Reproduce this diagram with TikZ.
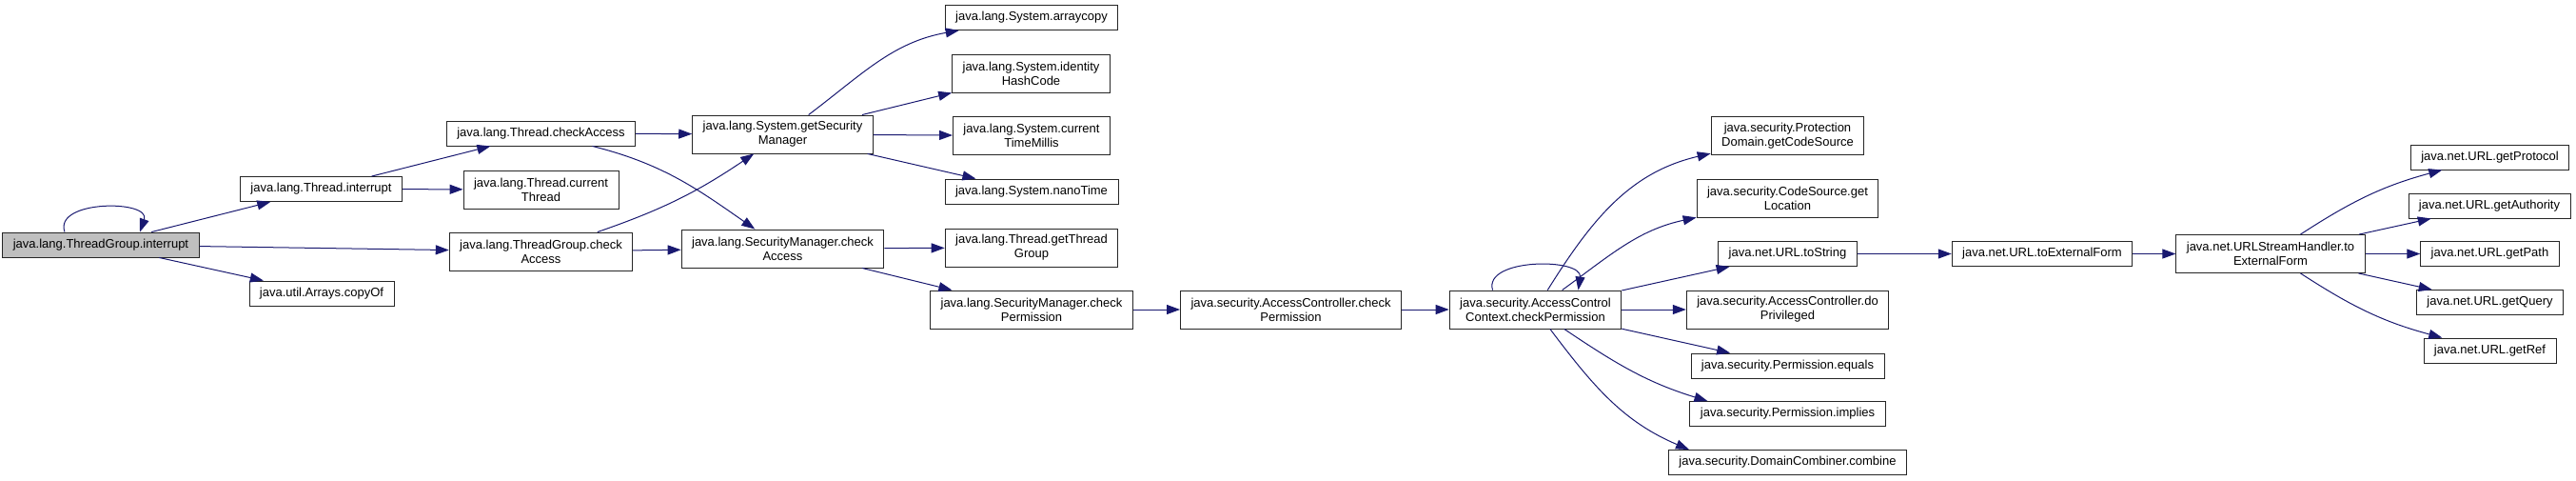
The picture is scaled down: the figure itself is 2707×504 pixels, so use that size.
\documentclass[tikz,border=0pt]{standalone}
\usepackage{fontspec}
\setmainfont{Liberation Sans}
\usetikzlibrary{arrows.meta}
\definecolor{edgeblue}{HTML}{191970}
\definecolor{rootgray}{HTML}{BFBFBF}

\begin{document}
\begin{tikzpicture}[
  x=1pt, y=1pt,
  fn/.style={draw=black!85, line width=0.9pt, fill=white, minimum height=26pt, inner xsep=11pt, inner ysep=2pt, align=center, font=\fontsize{13}{15}\selectfont},
  fn2/.style={fn, minimum height=40pt},
  root/.style={fn, fill=rootgray},
  call/.style={-{Triangle[length=14pt, width=10pt]}, draw=edgeblue, line width=1pt}
]
  \useasboundingbox (0,0) rectangle (2707,-504);

  % entry point and its direct callees
  \node[root] (tgi) at (106,-257) {java.lang.ThreadGroup.interrupt};
  \node[fn] (tint) at (337.5,-198.5) {java.lang.Thread.interrupt};
  \node[fn] (copyof) at (338,-308) {java.util.Arrays.copyOf};
  \node[fn] (tca) at (568.5,-140) {java.lang.Thread.checkAccess};
  \node[fn2] (tcur) at (568.5,-199) {java.lang.Thread.current\\Thread};
  \node[fn2] (tgca) at (568.5,-264) {java.lang.ThreadGroup.check\\Access};
  \node[fn2] (gsm) at (822.5,-141) {java.lang.System.getSecurity\\Manager};
  \node[fn2] (smca) at (822.5,-261) {java.lang.SecurityManager.check\\Access};

  % java.lang.System / SecurityManager column
  \node[fn] (acopy) at (1084,-18.5) {java.lang.System.arraycopy};
  \node[fn2] (ihc) at (1083.5,-77) {java.lang.System.identity\\HashCode};
  \node[fn2] (ctm) at (1084,-142.5) {java.lang.System.current\\TimeMillis};
  \node[fn] (nano) at (1084,-201) {java.lang.System.nanoTime};
  \node[fn2] (gtg) at (1084,-260) {java.lang.Thread.getThread\\Group};
  \node[fn2] (smcp) at (1084,-325) {java.lang.SecurityManager.check\\Permission};
  \node[fn2] (accp) at (1356.5,-325) {java.security.AccessController.check\\Permission};
  \node[fn2] (acc) at (1613.5,-325) {java.security.AccessControl\\Context.checkPermission};

  % java.security column
  \node[fn2] (pdcs) at (1878.5,-142.5) {java.security.Protection\\Domain.getCodeSource};
  \node[fn2] (csloc) at (1878.5,-208) {java.security.CodeSource.get\\Location};
  \node[fn] (urlts) at (1878.5,-266.5) {java.net.URL.toString};
  \node[fn2] (dopriv) at (1878.5,-325) {java.security.AccessController.do\\Privileged};
  \node[fn] (peq) at (1878.5,-384) {java.security.Permission.equals};
  \node[fn] (pimp) at (1878.5,-434.5) {java.security.Permission.implies};
  \node[fn] (dcomb) at (1878.5,-485.5) {java.security.DomainCombiner.combine};

  % java.net.URL chain
  \node[fn] (urltef) at (2146,-266.5) {java.net.URL.toExternalForm};
  \node[fn2] (ushtef) at (2386,-266.5) {java.net.URLStreamHandler.to\\ExternalForm};
  \node[fn] (gprot) at (2616.5,-165) {java.net.URL.getProtocol};
  \node[fn] (gauth) at (2616,-216) {java.net.URL.getAuthority};
  \node[fn] (gpath) at (2616.5,-266.5) {java.net.URL.getPath};
  \node[fn] (gquery) at (2616.5,-317.5) {java.net.URL.getQuery};
  \node[fn] (gref) at (2616.5,-368) {java.net.URL.getRef};

  % calls
  \draw[call] ([xshift=-38pt]tgi.north) .. controls +(-12,34) and +(12,34) .. ([xshift=41pt]tgi.north);
  \draw[call] (tgi) -- (tint);
  \draw[call] (tgi) -- (tgca);
  \draw[call] (tgi) -- (copyof);
  \draw[call] (tint) -- (tca);
  \draw[call] (tint) -- (tcur);
  \draw[call] (tca) -- (gsm);
  \draw[call] (tca) to[out=-14, in=145] (smca);
  \draw[call] (tgca) to[out=19, in=-146] (gsm);
  \draw[call] (tgca) -- (smca);
  \draw[call] (gsm) to[out=37, in=190] (acopy);
  \draw[call] (gsm) -- (ihc);
  \draw[call] (gsm) -- (ctm);
  \draw[call] (gsm) -- (nano);
  \draw[call] (smca) -- (gtg);
  \draw[call] (smca) -- (smcp);
  \draw[call] (smcp) -- (accp);
  \draw[call] (accp) -- (acc);

  \draw[call] ([xshift=-45pt]acc.north) .. controls +(-10,34) and +(5,34) .. ([xshift=45pt]acc.north);
  \draw[call] (acc) to[out=58, in=193] (pdcs);
  \draw[call] (acc) to[out=36, in=192] (csloc);
  \draw[call] (acc) -- (urlts);
  \draw[call] (acc) -- (dopriv);
  \draw[call] (acc) -- (peq);
  \draw[call] (acc) to[out=-34, in=163] ([xshift=19pt]pimp.north west);
  \draw[call] (acc) to[out=-53, in=157] ([xshift=22pt]dcomb.north west);

  \draw[call] (urlts) -- (urltef);
  \draw[call] (urltef) -- (ushtef);
  \draw[call] (ushtef) to[out=33, in=195] (gprot);
  \draw[call] (ushtef) -- (gauth);
  \draw[call] (ushtef) -- (gpath);
  \draw[call] (ushtef) -- (gquery);
  \draw[call] (ushtef) to[out=-33, in=165] (gref);
\end{tikzpicture}
\end{document}
